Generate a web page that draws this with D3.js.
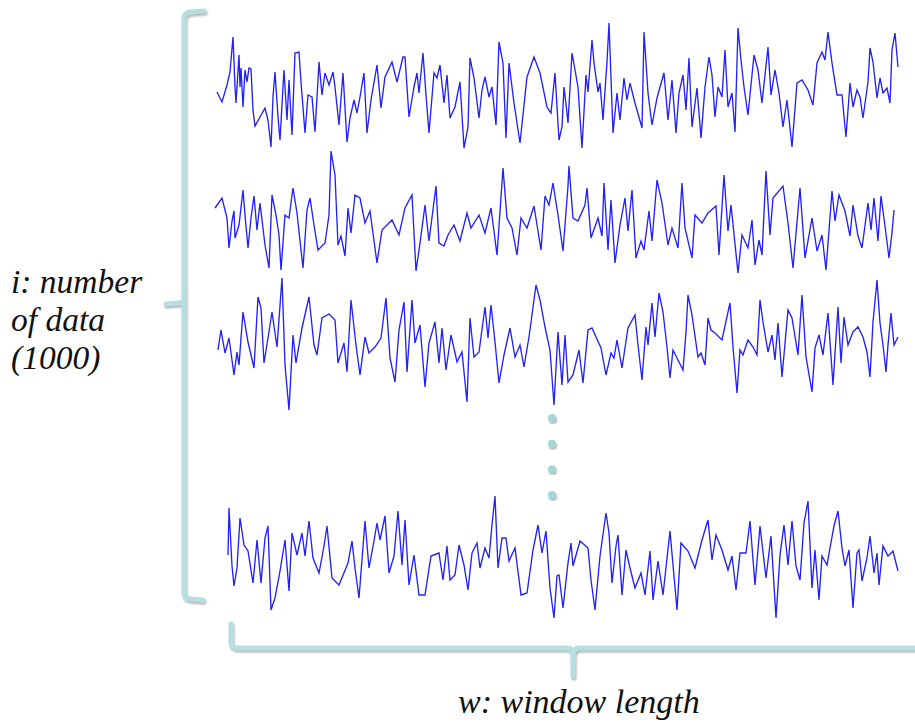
<!DOCTYPE html>
<html>
<head>
<meta charset="utf-8">
<script src="https://cdn.jsdelivr.net/npm/d3@7"></script>
<style>
  html, body { margin: 0; padding: 0; background: #ffffff; }
  svg { display: block; }
</style>
</head>
<body>
<script>
// Sampled windows: [sample index, amplitude]
const trace1 = [[2,-4],[7,-14],[12,3],[15,16],[18,51],[20,1],[21,-15],[24,33],[25,1],[26,20],
  [28,-19],[30,18],[32,6],[34,20],[36,19],[38,-22],[40,-38],[50,-20],[53,-32],[56,-59],
  [58,-9],[60,16],[63,-29],[65,-52],[68,1],[69,18],[72,-32],[74,8],[77,-47],[80,35],
  [84,36],[86,6],[90,-45],[93,-7],[97,-9],[100,-44],[103,8],[104,26],[107,-7],[110,15],
  [114,3],[118,16],[120,1],[124,-37],[128,15],[132,-54],[135,-30],[139,-12],[142,-25],[145,-9],
  [149,15],[152,-45],[156,-12],[162,23],[166,-20],[170,11],[177,26],[182,6],[188,31],[190,31],
  [194,-29],[199,1],[202,15],[204,-5],[208,35],[211,-7],[214,-45],[219,15],[222,10],[225,23],
  [229,-15],[232,13],[235,-30],[240,-19],[245,6],[249,-60],[253,-39],[255,30],[259,10],[264,-30],
  [267,-2],[270,11],[274,-9],[277,1],[281,-37],[284,46],[288,25],[291,-50],[294,25],[299,-15],
  [305,-55],[312,11],[319,31],[325,15],[332,-19],[336,-25],[340,15],[344,-52],[347,-39],[349,1],
  [352,-25],[353,-35],[357,35],[360,18],[363,1],[367,-60],[371,13],[373,-4],[377,48],[379,25],
  [383,-4],[385,5],[388,-32],[392,26],[394,65],[398,-45],[402,-5],[405,-32],[409,10],[412,-12],
  [415,5],[420,-15],[427,-40],[429,56],[433,-5],[437,-37],[442,-10],[449,15],[453,-32],[457,8],
  [461,-45],[464,-5],[468,13],[471,-22],[474,30],[477,-39],[482,0],[486,-50],[490,1],[494,31],
  [497,13],[500,-29],[503,1],[507,-9],[510,38],[513,-19],[517,-5],[520,-44],[523,60],[526,28],
  [529,1],[533,-27],[539,33],[543,18],[547,-15],[553,41],[556,-7],[560,18],[564,-5],[568,-39],
  [572,-12],[577,-59],[582,5],[587,8],[593,-2],[598,-17],[602,25],[607,36],[610,28],[613,56],
  [617,25],[622,-7],[627,-7],[631,-49],[635,5],[638,-19],[642,-2],[645,-9],[648,-30],[653,6],
  [655,40],[658,26],[662,-10],[665,10],[668,-5],[672,0],[675,-15],[677,38],[680,55],[683,21]];

const trace2 = [[0,4],[7,14],[12,-6],[14,-36],[17,-9],[19,1],[20,-26],[24,-13],[28,22],[30,-3],
  [33,-36],[36,-6],[39,16],[42,-18],[45,9],[50,-33],[54,-56],[57,17],[61,-3],[64,-23],
  [66,-58],[70,-3],[74,-6],[78,24],[82,-1],[88,-56],[92,2],[95,14],[99,-13],[103,-38],
  [110,-31],[114,-3],[116,61],[120,37],[123,-33],[126,-24],[130,-44],[133,4],[136,-21],[140,17],
  [145,14],[150,-11],[155,1],[162,-51],[167,-18],[177,-8],[184,-23],[190,4],[197,17],[201,-59],
  [205,-31],[210,7],[214,-29],[221,26],[224,-31],[229,-34],[233,-23],[239,-13],[245,-29],[252,-1],
  [256,-16],[264,-3],[270,-21],[276,4],[282,-43],[288,44],[292,-6],[297,-16],[302,-43],[306,-6],
  [312,-16],[319,6],[326,-38],[330,16],[334,7],[338,29],[340,16],[343,-3],[348,-39],[353,26],
  [354,46],[358,-6],[363,-9],[370,7],[372,24],[376,-26],[383,-6],[387,-24],[389,29],[393,-38],
  [396,12],[400,-51],[405,-13],[410,14],[413,-19],[417,22],[421,-46],[426,-29],[429,-38],[434,1],
  [437,-29],[442,32],[447,9],[453,-33],[457,-16],[463,-36],[467,29],[470,-16],[477,-46],[480,-3],
  [487,-11],[493,-1],[501,6],[504,-43],[509,37],[513,-19],[516,7],[523,-61],[527,-23],[533,-36],
  [537,-8],[540,-53],[544,-28],[547,-43],[551,41],[555,-23],[558,14],[568,26],[573,-11],[578,-56],
  [585,24],[590,-46],[597,-6],[602,-39],[607,-23],[611,-58],[617,21],[620,-9],[624,17],[630,1],
  [635,-24],[638,7],[643,-24],[647,-36],[653,9],[656,-18],[659,14],[663,-29],[666,16],[670,-14],
  [674,-46],[677,-21],[679,2]];

const trace3 = [[3,-7],[6,13],[10,-10],[14,5],[19,-32],[22,-9],[24,-22],[28,31],[33,1],[39,-25],
  [43,46],[46,35],[49,-20],[53,5],[57,31],[62,-4],[67,65],[70,-22],[74,-67],[78,8],
  [81,-20],[87,15],[94,46],[99,-2],[102,-12],[107,25],[114,29],[120,23],[123,-20],[129,0],
  [132,-29],[136,43],[141,-2],[145,-32],[150,6],[154,-10],[160,-4],[166,5],[171,45],[175,-15],
  [180,-39],[184,13],[189,41],[192,-29],[197,43],[200,0],[205,18],[210,-44],[214,0],[220,21],
  [224,-20],[227,15],[231,-27],[236,8],[242,-19],[247,-9],[252,-59],[255,25],[259,-14],[264,-9],
  [270,36],[273,5],[276,38],[280,1],[284,-40],[289,-12],[295,15],[300,-14],[305,-2],[309,-24],
  [314,6],[321,58],[325,43],[330,16],[335,-7],[339,-62],[343,11],[347,-42],[350,8],[353,-39],
  [358,-32],[364,-7],[368,-40],[373,13],[377,15],[386,-5],[391,-32],[396,-10],[399,-15],[402,3],
  [407,-25],[413,15],[420,28],[423,-2],[427,-37],[431,16],[433,-2],[437,40],[440,6],[444,50],
  [448,31],[452,-4],[455,-35],[458,-7],[468,-27],[471,11],[473,48],[477,28],[483,-14],[486,-10],
  [490,-22],[493,25],[496,13],[500,10],[507,3],[513,31],[515,40],[518,-4],[522,-50],[525,-7],
  [528,-12],[533,3],[538,-4],[542,-12],[545,43],[548,21],[553,-9],[557,8],[560,-17],[563,20],
  [567,-34],[573,33],[577,25],[583,-12],[587,48],[591,-14],[597,-49],[600,-5],[604,8],[608,-12],
  [613,30],[618,-42],[623,36],[626,-20],[629,26],[633,-2],[638,11],[643,16],[648,6],[652,-9],
  [655,-34],[658,21],[662,63],[665,20],[668,-2],[671,-29],[673,-2],[676,30],[679,-2],[683,6]];

const trace4 = [[13,2],[14,49],[17,-9],[19,-29],[22,-11],[25,39],[29,12],[33,6],[38,-26],[42,17],
  [46,-26],[50,19],[53,31],[56,-53],[60,-41],[65,-14],[70,17],[74,-34],[77,24],[82,2],
  [87,24],[90,1],[94,36],[98,-1],[104,-16],[109,11],[112,31],[117,-21],[124,-28],[133,-6],
  [137,16],[140,-11],[144,-41],[150,36],[154,-11],[159,16],[162,34],[165,17],[170,41],[174,-16],
  [179,1],[183,46],[187,-8],[190,37],[194,-28],[199,2],[204,-38],[210,-38],[216,1],[224,4],
  [228,-23],[232,11],[235,-23],[240,-18],[244,12],[249,-8],[253,-33],[257,4],[262,14],[265,-11],
  [270,9],[274,-1],[277,32],[280,61],[283,-11],[287,19],[291,19],[294,-4],[300,9],[306,-38],
  [312,-36],[318,7],[323,32],[327,4],[331,26],[335,-31],[339,-61],[342,-19],[344,-18],[348,-51],
  [353,-6],[356,14],[358,-9],[365,16],[373,9],[376,-23],[380,-53],[385,1],[391,44],[394,24],
  [397,-26],[401,11],[403,22],[407,-38],[411,7],[415,-11],[420,-31],[426,-16],[430,-38],[435,6],
  [438,-43],[443,-4],[448,-38],[455,26],[462,-53],[466,14],[473,6],[480,-11],[487,17],[493,37],
  [497,-3],[501,22],[507,7],[513,-13],[517,1],[521,-33],[525,4],[531,4],[535,36],[540,-28],
  [545,31],[551,-21],[556,21],[561,-61],[565,2],[569,32],[573,-8],[577,36],[581,-9],[585,-23],
  [589,34],[593,56],[597,-31],[600,7],[604,-43],[607,1],[612,-8],[615,9],[619,31],[623,46],
  [627,9],[630,-9],[634,7],[638,-51],[642,4],[644,7],[647,-24],[652,-1],[655,21],[659,-16],
  [662,4],[664,-28],[668,11],[673,1],[678,6],[683,-14]];

const traces = [trace1, trace2, trace3, trace4];
const dotCount = 4;
const leftLabel = ["i: number", "of data", "(1000)"];
const bottomLabel = "w: window length";

// ---- layout ----
const W = 915, H = 725;
const svg = d3.select("body").append("svg").attr("width", W).attr("height", H);

const defs = svg.append("defs");
const shadow = defs.append("filter").attr("id", "soft-shadow")
  .attr("x", "-20%").attr("y", "-20%").attr("width", "140%").attr("height", "140%");
shadow.append("feDropShadow").attr("dx", 1).attr("dy", 2).attr("stdDeviation", 1)
  .attr("flood-color", "#707070").attr("flood-opacity", 0.55);

const x = d3.scaleLinear().domain([0, 683]).range([215, 898]);
const rowCenters = [88, 212, 343, 557];
const amp = 65;

const line = d3.line().curve(d3.curveLinear);

traces.forEach((tr, i) => {
  const y = d3.scaleLinear().domain([-amp, amp])
    .range([rowCenters[i] + amp, rowCenters[i] - amp]);
  line.x(d => x(d[0])).y(d => y(d[1]));
  svg.append("path")
    .datum(tr)
    .attr("fill", "none")
    .attr("stroke", "#2222f5")
    .attr("stroke-width", 1.35)
    .attr("stroke-linejoin", "miter")
    .attr("d", line);
});

// continuation dots between the third and last windows
const dotY = d3.scalePoint().domain(d3.range(dotCount)).range([418, 495]);
svg.append("g").selectAll("circle")
  .data(d3.range(dotCount))
  .join("circle")
  .attr("cx", 552)
  .attr("cy", d => dotY(d))
  .attr("r", 4)
  .attr("fill", "#a6d6da")
  .attr("filter", "url(#soft-shadow)");

// braces
const braceColor = "#b6dfe2";
const braces = svg.append("g")
  .attr("fill", "none")
  .attr("stroke", braceColor)
  .attr("stroke-width", 5)
  .attr("stroke-linecap", "round")
  .attr("stroke-linejoin", "round")
  .attr("filter", "url(#soft-shadow)");

// left brace spanning the stacked windows
braces.append("path").attr("d",
  "M204,11 L190,12 Q184,13 184,19 L184,298 Q184,303 178,303 L166,304" +
  " M184,303 Q184,308 184,312 L184,592 Q184,599 191,599 L203,600");

// bottom brace spanning the window length
braces.append("path").attr("d",
  "M231,624 L231,642 Q231,648 238,648 L567,648 Q573,648 573,655 L573,676" +
  " M573,655 Q573,648 580,648 L918,648");

// labels
const labelFont = "'Liberation Serif', 'Times New Roman', serif";
const lt = svg.append("text")
  .attr("font-family", labelFont)
  .attr("font-style", "italic")
  .attr("font-size", 33.5)
  .attr("fill", "#111");
leftLabel.forEach((s, i) => {
  lt.append("tspan").attr("x", 11).attr("y", 293 + i * 38).text(s);
});

svg.append("text")
  .attr("x", 458).attr("y", 713)
  .attr("font-family", labelFont)
  .attr("font-style", "italic")
  .attr("font-size", 34)
  .attr("fill", "#111")
  .text(bottomLabel);
</script>
</body>
</html>
